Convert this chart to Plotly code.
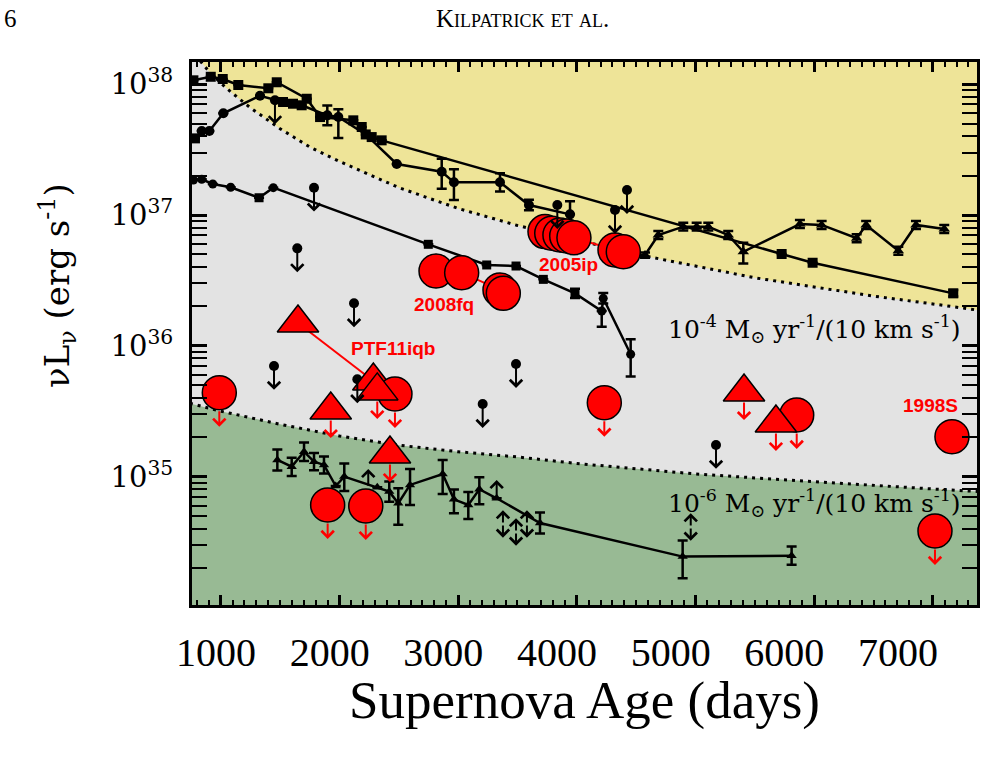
import numpy as np
import plotly.graph_objects as go

# ---------------- data (age in days, log10 of nu L_nu in erg/s) ----------------
# boundary curves
upper_days = [740, 830, 900, 1000, 1100, 1250, 1500, 1750, 2000, 2500, 3000, 3500, 4000, 4500, 5000, 5500, 6000, 6500, 7000, 7400]
upper_logL = [38.27, 38.17, 38.10, 38.01, 37.93, 37.82, 37.66, 37.52, 37.41, 37.21, 37.05, 36.92, 36.81, 36.70, 36.61, 36.52, 36.45, 36.38, 36.32, 36.27]
lower_days = [740, 1000, 1500, 2000, 2500, 3000, 3500, 4000, 4500, 5000, 5500, 6000, 6500, 7000, 7400]
lower_logL = [35.56, 35.50, 35.40, 35.31, 35.24, 35.19, 35.15, 35.10, 35.06, 35.02, 34.99, 34.96, 34.93, 34.905, 34.885]

# black series 1 (squares, top)
s1_days = [770, 916, 1017, 1148, 1401, 1472, 1725, 1837, 2117, 2188, 2272, 2356, 5726, 5987, 7172]
s1_logL = [38.03, 38.057, 38.040, 37.994, 37.969, 38.015, 37.889, 37.749, 37.724, 37.673, 37.596, 37.571, 36.702, 36.635, 36.401]
s1_eup = [0, 0, 0, 0, 0, 0, 0, 0, 0, 0, 0, 0, 0, 0, 0.025]
s1_edn = [0, 0, 0, 0, 0, 0, 0, 0, 0, 0, 0, 0, 0, 0, 0.025]

# black series 2 (circles, upper)
s2_days = [783, 840, 904, 1022, 1331, 1525, 1609, 1682, 1898, 1991, 2222, 2483, 2862, 2965, 3353, 3597, 3943]
s2_logL = [37.586, 37.642, 37.642, 37.778, 37.912, 37.864, 37.851, 37.839, 37.762, 37.749, 37.616, 37.390, 37.331, 37.250, 37.250, 37.076, 37.005]
s2_eup = [0, 0, 0, 0, 0, 0, 0, 0, 0.076, 0.06, 0, 0, 0.10, 0.10, 0.07, 0.04, 0.10]
s2_edn = [0, 0, 0, 0, 0, 0, 0, 0, 0.076, 0.16, 0, 0, 0.13, 0.135, 0.07, 0.04, 0.0]
s2_sym = ["square", "circle", "circle", "circle", "circle", "square", "square", "square",
          "circle", "circle", "square", "circle", "circle", "circle", "circle", "circle", "circle"]

# black series 3 (middle)
s3_days = [770, 840, 933, 1084, 1323, 1443, 2749, 3241, 3488, 3718, 3985, 4210, 4223, 4454]
s3_logL = [37.268, 37.273, 37.237, 37.212, 37.132, 37.209, 36.776, 36.618, 36.610, 36.508, 36.401, 36.266, 36.363, 35.935]
s3_eup = [0, 0, 0, 0, 0, 0, 0, 0, 0, 0, 0.035, 0.0, 0.04, 0.115]
s3_edn = [0, 0, 0, 0, 0, 0, 0, 0, 0, 0, 0.035, 0.12, 0.04, 0.17]
s3_sym = ["circle", "circle", "circle", "circle", "square", "circle", "square", "square",
          "square", "square", "square", "circle", "circle", "circle"]

# black series 4 (triangles, upper right)
s4_days = [4575, 4687, 4897, 5010, 5108, 5276, 5403, 5880, 6063, 6358, 6438, 6709, 6858, 7096]
s4_logL = [36.694, 36.847, 36.911, 36.911, 36.911, 36.847, 36.719, 36.931, 36.924, 36.822, 36.924, 36.727, 36.924, 36.893]
s4_eup = [0.02, 0.03, 0.03, 0.03, 0.03, 0.03, 0.069, 0.03, 0.03, 0.03, 0.03, 0.03, 0.03, 0.03]
s4_edn = [0.02, 0.03, 0.03, 0.03, 0.03, 0.03, 0.089, 0.03, 0.03, 0.03, 0.03, 0.03, 0.03, 0.03]

# black series 5 (small triangles, low)
s5_days = [1477, 1598, 1702, 1786, 1870, 1969, 2041, 2319, 2420, 2496, 2595, 2870, 2965, 3086, 3179, 3325, 3690, 4892, 5810]
s5_logL = [35.127, 35.076, 35.190, 35.114, 35.089, 34.928, 35.000, 34.918, 34.885, 34.796, 34.936, 35.020, 34.826, 34.783, 34.903, 34.834, 34.645, 34.388, 34.395]
s5_eup = [0.08, 0.068, 0.07, 0.066, 0.065, 0, 0.10, 0, 0.077, 0.115, 0.122, 0.107, 0.076, 0.10, 0.092, 0, 0.08, 0.123, 0.07]
s5_edn = [0.08, 0.072, 0.07, 0.066, 0.065, 0, 0.11, 0, 0.077, 0.165, 0.153, 0.153, 0.107, 0.107, 0.115, 0, 0.08, 0.165, 0.07]

# black upper limits
bul_days = [1457, 1786, 1645, 2123, 1449, 2151, 3488, 3207, 5173, 4423, 4322, 3836]
bul_logL = [37.877, 37.209, 36.745, 36.325, 35.846, 35.744, 35.861, 35.555, 35.242, 37.191, 37.038, 37.076]
# black lower limits (up arrows) and double arrows
bll_days = [2243, 3325]
bll_logL = [34.918, 34.834]
bdbl_days = [3378, 3488, 3580, 4960]
bdbl_logL = [34.638, 34.577, 34.638, 34.615]

# red detections
fq_days = [2814, 3030, 3353, 3381]
fq_logL = [36.572, 36.559, 36.427, 36.401]
ip_days = [3732, 3789, 3858, 3915, 3976, 4322, 4392]
ip_logL = [36.873, 36.860, 36.847, 36.840, 36.826, 36.733, 36.719]
s98_days = [7161]
s98_logL = [35.305]
ptf_days = [1651, 2286]
ptf_logL = [36.174, 35.731]
# red upper limits
rcl_days = [988, 1901, 2222, 2468, 4232, 5853, 7018]
rcl_logL = [35.641, 34.783, 34.775, 35.631, 35.565, 35.471, 34.584]
rtl_days = [1927, 2426, 5409, 5678, 2319]
rtl_logL = [35.509, 35.173, 35.647, 35.410, 35.655]

labels = ["2008fq", "2005ip", "PTF11iqb", "1998S"]
label_days = [2885, 3934, 2452, 6983]
label_logL = [36.319, 36.625, 35.976, 35.547]

x_ticks = [1000, 2000, 3000, 4000, 5000, 6000, 7000]
y_tick_exp = [35, 36, 37, 38]

# ---------------- styling ----------------
YELLOW = "#EEE498"
GREY = "#E3E3E3"
GREEN = "#98BA94"
RED = "#FF0000"
BLACK_ARROW_DEX = 0.183
RED_CIRC_ARROW_DEX = 0.26
RED_TRI_ARROW_DEX = 0.215
LL_DEX = 0.14
DBL_DEX = 0.105

def L(v):
    return [10.0 ** a for a in v]

def errs(logs, up, dn):
    p = [10.0 ** a * (10.0 ** u - 1) for a, u in zip(logs, up)]
    m = [10.0 ** a * (1 - 10.0 ** (-d)) for a, d in zip(logs, dn)]
    return dict(type="data", symmetric=False, array=p, arrayminus=m,
                color="black", thickness=2.5, width=5)

fig = go.Figure()

# background regions
fig.add_trace(go.Scatter(x=upper_days + [7800, 7800, 600, 600],
                         y=L(upper_logL + [36.27, 39.0, 39.0, 38.27]),
                         fill="toself", fillcolor=YELLOW, mode="lines",
                         line=dict(width=0), hoverinfo="skip"))
fig.add_trace(go.Scatter(x=lower_days + [7800, 7800, 600, 600],
                         y=L(lower_logL + [34.885, 33.0, 33.0, 35.56]),
                         fill="toself", fillcolor=GREEN, mode="lines",
                         line=dict(width=0), hoverinfo="skip"))
for d, v in ((upper_days, upper_logL), (lower_days, lower_logL)):
    fig.add_trace(go.Scatter(x=d, y=L(v), mode="lines",
                             line=dict(color="black", width=3, dash="3px,5px"),
                             hoverinfo="skip"))

# black series
fig.add_trace(go.Scatter(x=s1_days, y=L(s1_logL), mode="lines+markers",
                         line=dict(color="black", width=2.5),
                         marker=dict(symbol="square", size=10, color="black"),
                         error_y=errs(s1_logL, s1_eup, s1_edn)))
fig.add_trace(go.Scatter(x=s2_days, y=L(s2_logL), mode="lines+markers",
                         line=dict(color="black", width=2.5),
                         marker=dict(symbol=s2_sym, size=10, color="black"),
                         error_y=errs(s2_logL, s2_eup, s2_edn)))
fig.add_trace(go.Scatter(x=s3_days, y=L(s3_logL), mode="lines+markers",
                         line=dict(color="black", width=2.5),
                         marker=dict(symbol=s3_sym, size=9, color="black"),
                         error_y=errs(s3_logL, s3_eup, s3_edn)))
fig.add_trace(go.Scatter(x=s4_days, y=L(s4_logL), mode="lines+markers",
                         line=dict(color="black", width=2.5),
                         marker=dict(symbol="triangle-up", size=10, color="black"),
                         error_y=errs(s4_logL, s4_eup, s4_edn)))
fig.add_trace(go.Scatter(x=s5_days, y=L(s5_logL), mode="lines+markers",
                         line=dict(color="black", width=2.5),
                         marker=dict(symbol="triangle-up", size=9, color="black"),
                         error_y=errs(s5_logL, s5_eup, s5_edn)))
fig.add_trace(go.Scatter(x=bul_days, y=L(bul_logL), mode="markers",
                         marker=dict(symbol="circle", size=10, color="black")))

# red detections
red_marker = dict(symbol="circle", size=34, color=RED, line=dict(color="black", width=1.5))
for d, v in ((fq_days, fq_logL), (ip_days, ip_logL), (s98_days, s98_logL)):
    fig.add_trace(go.Scatter(x=d, y=L(v), mode="lines+markers",
                             line=dict(color=RED, width=2), marker=red_marker))
fig.add_trace(go.Scatter(x=ptf_days, y=L(ptf_logL), mode="lines+markers",
                         line=dict(color=RED, width=2),
                         marker=dict(symbol="triangle-up", size=36, color=RED,
                                     line=dict(color="black", width=1.5))))
fig.add_trace(go.Scatter(x=rcl_days, y=L(rcl_logL), mode="markers", marker=red_marker))
fig.add_trace(go.Scatter(x=rtl_days, y=L(rtl_logL), mode="markers",
                         marker=dict(symbol="triangle-up", size=36, color=RED,
                                     line=dict(color="black", width=1.5))))

# invisible trace for the label axis
fig.add_trace(go.Scatter(x=[None], y=[None], xaxis="x2", mode="markers", hoverinfo="skip"))

def arrow(x, y_tail, y_head, color, start=0):
    fig.add_annotation(x=x, y=y_head, ax=x, ay=y_tail, xref="x", yref="y",
                       axref="x", ayref="y", text="", showarrow=True,
                       arrowhead=4, arrowsize=1.2, arrowwidth=2,
                       arrowcolor=color, startstandoff=start, standoff=0)

for d, v in zip(bul_days, bul_logL):
    arrow(d, v, v - BLACK_ARROW_DEX, "black")
for d, v in zip(bll_days, bll_logL):
    arrow(d, v, v + LL_DEX, "black")
for d, v in zip(bdbl_days, bdbl_logL):
    arrow(d, v, v + DBL_DEX, "black")
    arrow(d, v, v - DBL_DEX, "black")
for d, v in zip(rcl_days, rcl_logL):
    arrow(d, v, v - RED_CIRC_ARROW_DEX, RED, start=17)
for d, v in zip(rtl_days, rtl_logL):
    arrow(d, v, v - RED_TRI_ARROW_DEX, RED, start=9)

for t, d, v in zip(labels, label_days, label_logL):
    fig.add_annotation(x=d, y=v, xref="x", yref="y", text=t, showarrow=False,
                       xanchor="center", yanchor="middle",
                       font=dict(family="Liberation Sans", size=19, color=RED, weight="bold"))

mass_font = dict(family="DejaVu Serif", size=25, color="black")
fig.add_annotation(xref="paper", yref="paper", x=0.982, y=0.508, xanchor="right", yanchor="middle",
                   text="10<sup>-4</sup> M<sub>⊙</sub> yr<sup>-1</sup>/(10 km s<sup>-1</sup>)",
                   showarrow=False, font=mass_font)
fig.add_annotation(xref="paper", yref="paper", x=0.982, y=0.188, xanchor="right", yanchor="middle",
                   text="10<sup>-6</sup> M<sub>⊙</sub> yr<sup>-1</sup>/(10 km s<sup>-1</sup>)",
                   showarrow=False, font=mass_font)

# axis titles and page header
fig.add_annotation(xref="paper", yref="paper", x=-0.1707, y=0.5875, textangle=-90,
                   xanchor="center", yanchor="middle",
                   text="νL<sub>ν</sub> (erg s<sup>-1</sup>)", showarrow=False,
                   font=dict(family="DejaVu Serif", size=34, color="black"))
fig.add_annotation(xref="paper", yref="paper", x=0.5006, y=-0.175,
                   xanchor="center", yanchor="middle",
                   text="Supernova Age (days)", showarrow=False,
                   font=dict(family="Liberation Serif", size=53, color="black"))
fig.add_annotation(xref="paper", yref="paper", x=-0.2318, y=1.081,
                   xanchor="center", yanchor="middle",
                   text="6", showarrow=False,
                   font=dict(family="Liberation Serif", size=25, color="black"))
fig.add_annotation(xref="paper", yref="paper", x=0.4204, y=1.081,
                   xanchor="center", yanchor="middle",
                   text="Kilpatrick et al.", showarrow=False,
                   font=dict(family="Liberation Serif", size=25, color="black", variant="small-caps"))

minor_y = [m * 10.0 ** e for e in (34, 35, 36, 37) for m in range(2, 10)]

fig.update_layout(
    width=1006, height=767,
    margin=dict(l=192, r=29, t=62, b=162),
    paper_bgcolor="white", plot_bgcolor=GREY,
    showlegend=False,
    xaxis=dict(range=[758, 7372], tickvals=x_ticks, showticklabels=False,
               ticks="inside", ticklen=10, tickwidth=2.5, tickcolor="black",
               minor=dict(ticks="inside", ticklen=5, tickwidth=2, dtick=100, tick0=0, tickcolor="black"),
               showline=True, linewidth=3, linecolor="black", mirror="allticks",
               showgrid=False, zeroline=False),
    xaxis2=dict(overlaying="x", anchor="y", side="bottom", range=[789, 7695],
                tickvals=x_ticks, ticktext=[str(t) for t in x_ticks],
                ticks="", showline=False, showgrid=False, zeroline=False,
                ticklabelstandoff=20,
                tickfont=dict(family="Liberation Serif", size=40, color="black")),
    yaxis=dict(type="log", range=[34.018, 38.170],
               tickvals=[10.0 ** e for e in y_tick_exp],
               ticktext=["10<sup>%d</sup>" % e for e in y_tick_exp],
               tickfont=dict(family="DejaVu Serif", size=29, color="black"),
               ticks="inside", ticklen=15, tickwidth=2.5, tickcolor="black",
               minor=dict(ticks="inside", ticklen=8, tickwidth=2, tickvals=minor_y, tickcolor="black"),
               showline=True, linewidth=3, linecolor="black", mirror="allticks",
               showgrid=False, zeroline=False, ticklabelstandoff=10),
)

fig.write_html("out.html")
